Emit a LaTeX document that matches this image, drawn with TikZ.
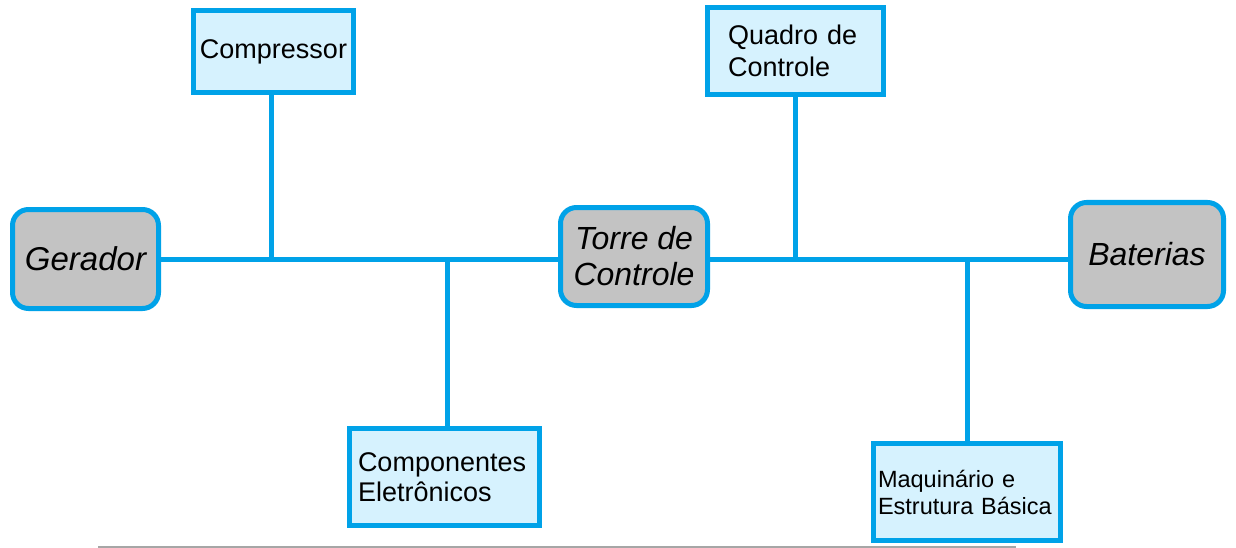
\documentclass[tikz,border=0pt]{standalone}
\usepackage{fontspec}
\setmainfont{Liberation Sans}
\definecolor{lineblue}{RGB}{0,162,232}
\definecolor{boxfill}{RGB}{214,242,254}
\definecolor{grayfill}{RGB}{195,195,195}
\begin{document}
\begin{tikzpicture}[x=1pt,y=-1pt,
  conn/.style={draw=lineblue,line width=5pt},
  sqbox/.style={draw=lineblue,fill=boxfill,line width=5pt,inner sep=0pt,align=left},
  rbox/.style={draw=lineblue,fill=grayfill,line width=5pt,inner sep=0pt,align=center,rounded corners=16pt,font=\fontsize{32}{36}\selectfont\itshape}]
\useasboundingbox (0,0) rectangle (1236,548);
\fill[white] (0,0) rectangle (1236,548);
% boxes
\node[sqbox,minimum width=160pt,minimum height=82pt,text width=150pt,align=center,font=\fontsize{27}{32}\selectfont] (comp) at (273.5,51.5) {Compressor};
\node[sqbox,minimum width=176pt,minimum height=87pt,text width=135pt,font=\fontsize{27}{32}\selectfont] (quadro) at (795.5,51) {Quadro de\\Controle};
\node[sqbox,minimum width=190pt,minimum height=97pt,text width=173pt,font=\fontsize{27}{30}\selectfont] (compel) at (444.5,477) {Componentes\\Eletrônicos};
\node[sqbox,minimum width=187pt,minimum height=97pt,text width=178pt,font=\fontsize{23.5}{27}\selectfont] (maq) at (967,492) {Maquinário e\\Estrutura Básica};
\node[rbox,minimum width=146pt,minimum height=99pt,font=\fontsize{33}{36}\selectfont\itshape] (ger) at (85.5,259) {Gerador};
\node[rbox,minimum width=147pt,minimum height=98pt] (torre) at (634,256.5) {Torre de\\Controle};
\node[rbox,minimum width=153pt,minimum height=104pt] (bat) at (1147,254.5) {Baterias};
% junctions
\coordinate (j1) at (271,259);
\coordinate (j2) at (447,259);
\coordinate (j3) at (795,259);
\coordinate (j4) at (967,259);
% connectors
\draw[conn] (ger.east |- j1) -- (torre.west |- j1);
\draw[conn] (torre.east |- j3) -- (bat.west |- j3);
\draw[conn] (comp.south -| j1) -- (j1);
\draw[conn] (j2) -- (compel.north -| j2);
\draw[conn] (quadro.south -| j3) -- (j3);
\draw[conn] (j4) -- (maq.north -| j4);
% bottom gray rule
\draw[gray!70,line width=2pt] (98,546.5) -- (1016,546.5);
\end{tikzpicture}
\end{document}
